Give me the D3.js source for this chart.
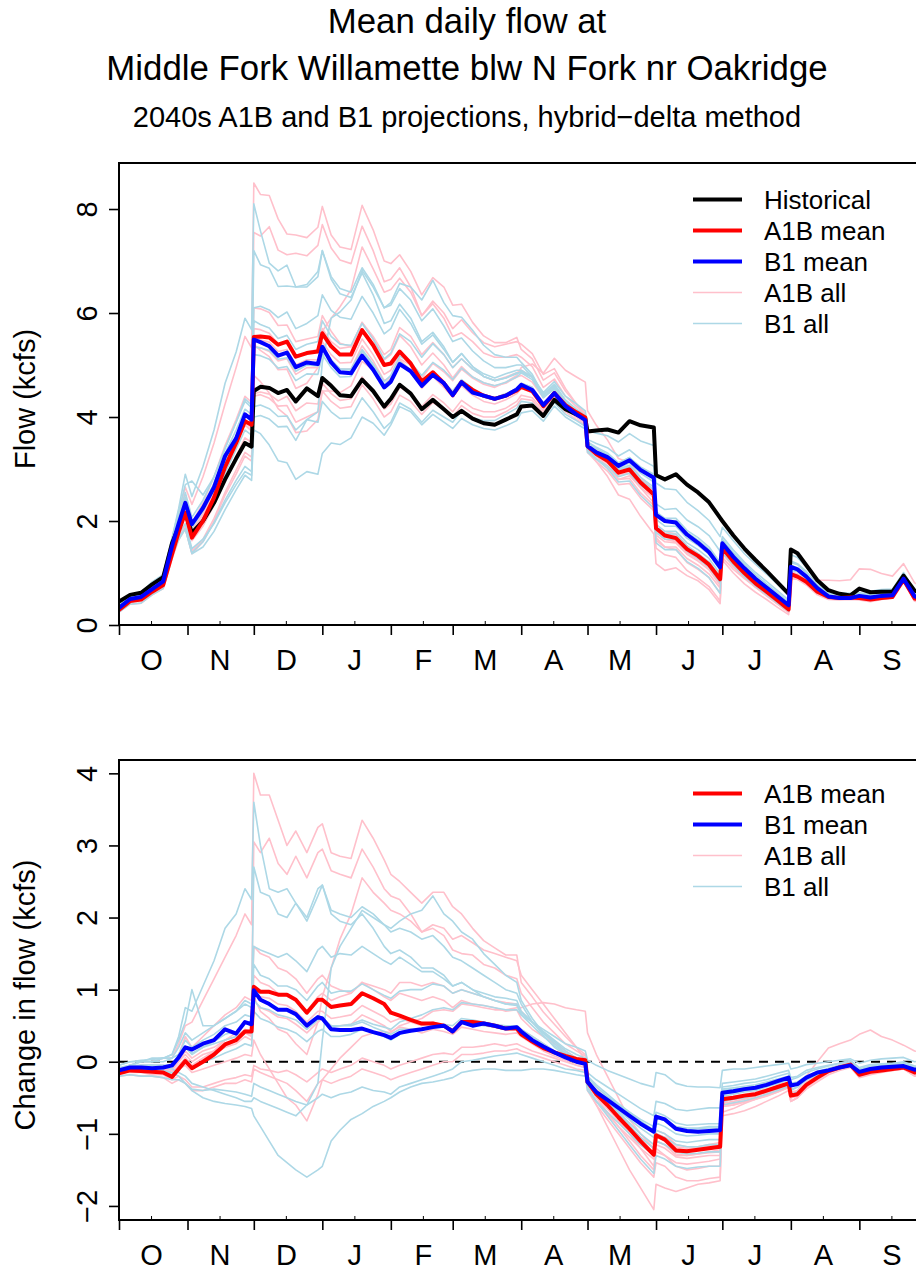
<!DOCTYPE html>
<html>
<head>
<meta charset="utf-8">
<script src="https://cdn.jsdelivr.net/npm/d3@7"></script>
<style>
  body { margin: 0; background: #fff; }
  text { font-family: "Liberation Sans", Arial, Helvetica, sans-serif; fill: #000; }
</style>
</head>
<body>
<svg id="chart" width="916" height="1270"></svg>
<script>
// Day of water year (0 = Oct 1) at which each value is given.
const days = [0,5,10,15,20,24,27,30,33,38,43,48,53,57,60,
  61,64,68,72,76,80,85,90,
  92,96,100,105,110,115,120,
  123,127,132,137,142,147,
  151,155,160,165,170,175,180,
  182,187,192,197,202,207,211,
  212,216,221,226,231,236,242,
  243,247,252,257,262,267,272,
  273,278,283,288,293,298,303,
  304,307,311,316,321,326,331,
  335,340,345,350,355,360,364];

// Historical mean daily flow (kcfs).
const histFlow = [0.45,0.58,0.62,0.78,0.92,1.57,1.89,2.15,1.77,2.0,2.35,2.8,3.2,3.5,3.43,
  4.5,4.58,4.56,4.46,4.52,4.3,4.55,4.4,
  4.75,4.6,4.42,4.4,4.72,4.5,4.2,
  4.35,4.62,4.45,4.15,4.33,4.15,
  4.0,4.12,3.97,3.88,3.85,3.95,4.05,
  4.2,4.22,4.02,4.33,4.15,4.05,3.97,
  3.72,3.74,3.76,3.7,3.92,3.84,3.8,
  2.88,2.8,2.9,2.7,2.55,2.36,2.06,
  2.0,1.72,1.47,1.25,1.04,0.82,0.6,
  1.45,1.38,1.15,0.86,0.67,0.6,0.57,
  0.7,0.63,0.64,0.64,0.95,0.66,0.6];

// Ensemble-mean change from historical (kcfs).
const a1bMeanChange = [-0.16,-0.12,-0.13,-0.14,-0.15,-0.21,-0.1,0.01,-0.09,0.0,0.1,0.24,0.3,0.42,0.42,
  1.04,0.97,0.97,0.93,0.93,0.86,0.68,0.86,
  0.86,0.76,0.78,0.8,0.95,0.88,0.8,
  0.68,0.64,0.58,0.53,0.53,0.5,
  0.42,0.55,0.55,0.53,0.5,0.46,0.46,
  0.38,0.28,0.19,0.13,0.08,0.04,0.02,
  -0.28,-0.45,-0.6,-0.77,-0.93,-1.1,-1.29,
  -1.02,-1.08,-1.23,-1.24,-1.22,-1.2,-1.18,
  -0.52,-0.5,-0.47,-0.45,-0.4,-0.35,-0.3,
  -0.47,-0.45,-0.32,-0.22,-0.13,-0.08,-0.04,
  -0.18,-0.14,-0.12,-0.1,-0.08,-0.15,-0.12];

const b1MeanChange = [-0.12,-0.08,-0.08,-0.09,-0.08,-0.05,0.06,0.2,0.17,0.25,0.3,0.45,0.39,0.55,0.52,
  0.99,0.86,0.8,0.72,0.72,0.66,0.5,0.62,
  0.6,0.45,0.44,0.44,0.46,0.41,0.37,
  0.33,0.4,0.43,0.45,0.48,0.5,
  0.42,0.55,0.5,0.53,0.5,0.46,0.48,
  0.42,0.3,0.21,0.13,0.06,0.0,-0.03,
  -0.28,-0.42,-0.53,-0.64,-0.75,-0.86,-0.97,
  -0.76,-0.8,-0.93,-0.96,-0.97,-0.96,-0.95,
  -0.43,-0.41,-0.38,-0.36,-0.32,-0.27,-0.22,
  -0.33,-0.31,-0.22,-0.15,-0.12,-0.08,-0.05,
  -0.14,-0.1,-0.08,-0.07,-0.06,-0.11,-0.1];

// Individual A1B projections: change from historical (kcfs).
const a1bRunChanges = [
  [-0.1,-0.05,0.0,0.0,0.05,0.05,0.25,0.5,0.55,0.85,1.15,1.45,1.75,2.05,1.9,
   4.0,3.7,3.7,3.35,3.0,3.2,2.9,3.25,
   3.3,2.9,2.85,2.82,3.35,3.1,2.8,
   2.6,2.5,2.35,2.2,2.35,2.35,
   2.15,2.05,1.85,1.68,1.58,1.48,1.48,
   1.1,0.9,0.69,0.52,0.35,0.2,0.02,
   -0.35,-0.6,-0.9,-1.2,-1.5,-1.75,-2.05,
   -1.7,-1.75,-1.8,-1.75,-1.7,-1.68,-1.65,
   -0.7,-0.65,-0.58,-0.52,-0.45,-0.38,-0.32,
   -0.5,-0.42,-0.3,-0.2,-0.12,-0.08,-0.05,
   -0.15,-0.12,-0.1,-0.08,-0.05,-0.15,-0.12],
  [-0.15,-0.1,-0.1,-0.1,-0.08,-0.1,0.1,0.35,0.2,0.35,0.5,0.65,0.75,0.9,0.85,
   3.05,2.9,3.1,2.75,2.6,2.85,2.55,2.9,
   2.95,2.65,2.6,2.55,2.95,2.7,2.4,
   2.3,2.25,2.05,1.8,1.85,1.75,
   1.55,1.5,1.48,1.35,1.3,1.2,1.15,
   0.95,0.75,0.55,0.4,0.25,0.15,0.08,
   -0.25,-0.4,-0.6,-0.8,-1.0,-1.2,-1.45,
   -1.2,-1.3,-1.45,-1.5,-1.48,-1.45,-1.45,
   -0.62,-0.6,-0.55,-0.5,-0.45,-0.4,-0.35,
   -0.55,-0.5,-0.35,-0.25,-0.15,-0.1,-0.05,
   -0.2,-0.15,-0.12,-0.12,-0.1,-0.2,-0.18],
  [-0.1,-0.08,-0.05,-0.05,-0.05,-0.1,0.0,0.1,0.0,0.1,0.15,0.2,0.3,0.4,0.38,
   0.9,0.7,0.6,0.45,0.4,0.25,0.1,0.55,
   0.9,1.3,1.7,2.05,2.55,2.35,2.2,
   2.1,2.05,1.95,1.8,1.9,1.85,
   1.7,1.75,1.65,1.55,1.5,1.45,1.4,
   1.2,1.0,0.8,0.6,0.4,0.2,0.1,
   -0.2,-0.35,-0.55,-0.75,-0.95,-1.1,-1.3,
   -1.1,-1.15,-1.3,-1.3,-1.28,-1.25,-1.22,
   -0.55,-0.52,-0.5,-0.47,-0.42,-0.37,-0.32,
   -0.5,-0.45,-0.3,-0.2,-0.12,-0.05,0.0,
   -0.15,-0.1,-0.1,-0.08,-0.05,-0.12,-0.1],
  [-0.1,-0.1,-0.08,-0.1,-0.1,-0.15,-0.05,0.05,-0.05,0.05,0.15,0.3,0.4,0.55,0.5,
   1.6,1.5,1.45,1.3,1.25,1.15,0.95,1.15,
   1.2,1.05,1.0,0.95,1.1,1.0,0.9,
   0.85,0.95,0.9,0.85,0.9,0.85,
   0.75,0.85,0.8,0.78,0.75,0.7,0.72,
   0.6,0.45,0.35,0.25,0.15,0.05,0.0,
   -0.3,-0.5,-0.7,-0.9,-1.1,-1.3,-1.5,
   -1.25,-1.3,-1.4,-1.42,-1.4,-1.38,-1.35,
   -0.6,-0.58,-0.55,-0.52,-0.48,-0.42,-0.36,
   -0.5,-0.48,-0.35,-0.25,-0.15,-0.1,-0.05,
   -0.2,-0.15,-0.12,-0.1,-0.08,-0.18,-0.15],
  [-0.12,-0.1,-0.1,-0.12,-0.12,-0.2,-0.1,0.0,-0.1,0.0,0.1,0.2,0.25,0.35,0.3,
   0.95,0.9,0.88,0.8,0.78,0.7,0.55,0.7,
   0.7,0.6,0.62,0.65,0.78,0.7,0.62,
   0.55,0.6,0.55,0.5,0.55,0.5,
   0.45,0.55,0.55,0.52,0.5,0.48,0.5,
   0.45,0.35,0.25,0.15,0.05,-0.02,-0.05,
   -0.35,-0.55,-0.72,-0.9,-1.05,-1.2,-1.35,
   -1.15,-1.2,-1.32,-1.34,-1.32,-1.3,-1.3,
   -0.62,-0.6,-0.56,-0.52,-0.47,-0.42,-0.35,
   -0.55,-0.5,-0.35,-0.25,-0.15,-0.1,-0.05,
   -0.2,-0.16,-0.14,-0.12,-0.1,-0.18,-0.15],
  [-0.15,-0.12,-0.12,-0.15,-0.15,-0.2,-0.1,-0.05,-0.15,-0.1,-0.05,0.0,0.05,0.1,0.08,
   0.3,0.1,-0.1,-0.3,-0.5,-0.6,-0.82,-0.45,
   -0.25,-0.1,0.05,0.2,0.35,0.4,0.42,
   0.4,0.5,0.55,0.6,0.7,0.72,
   0.7,0.8,0.78,0.75,0.72,0.72,0.75,
   0.75,0.8,0.82,0.8,0.75,0.72,0.7,
   0.4,0.1,-0.2,-0.5,-0.8,-1.0,-1.2,
   -0.95,-1.0,-1.15,-1.18,-1.18,-1.15,-1.12,
   -0.5,-0.48,-0.45,-0.42,-0.38,-0.33,-0.28,
   -0.42,-0.4,-0.28,-0.18,-0.1,-0.05,-0.02,
   -0.12,-0.1,-0.08,-0.06,-0.04,-0.1,-0.08],
  [-0.15,-0.15,-0.15,-0.18,-0.18,-0.25,-0.2,-0.25,-0.35,-0.35,-0.3,-0.25,-0.22,-0.18,-0.2,
   -0.05,-0.1,-0.12,-0.15,-0.12,-0.18,-0.28,-0.15,
   -0.1,-0.15,-0.1,-0.05,0.05,0.0,-0.05,
   -0.1,-0.05,0.0,0.05,0.1,0.12,
   0.1,0.2,0.2,0.22,0.25,0.22,0.25,
   0.22,0.15,0.1,0.05,0.0,-0.05,-0.08,
   -0.3,-0.45,-0.6,-0.75,-0.9,-1.05,-1.2,
   -1.0,-1.05,-1.2,-1.22,-1.2,-1.18,-1.18,
   -0.55,-0.52,-0.5,-0.46,-0.42,-0.37,-0.3,
   -0.45,-0.4,-0.2,0.0,0.19,0.25,0.3,
   0.38,0.44,0.35,0.3,0.23,0.15,0.12],
  [-0.2,-0.18,-0.2,-0.2,-0.22,-0.3,-0.25,-0.3,-0.4,-0.4,-0.35,-0.3,-0.3,-0.25,-0.28,
   -0.1,-0.15,-0.2,-0.25,-0.3,-0.4,-0.55,-0.3,
   -0.25,-0.3,-0.25,-0.2,-0.1,-0.15,-0.2,
   -0.25,-0.2,-0.15,-0.1,-0.05,0.0,
   0.0,0.1,0.1,0.12,0.15,0.15,0.18,
   0.15,0.1,0.05,0.0,-0.05,-0.1,-0.12,
   -0.4,-0.6,-0.8,-1.0,-1.2,-1.4,-1.6,
   -1.4,-1.45,-1.6,-1.65,-1.65,-1.62,-1.6,
   -0.75,-0.72,-0.68,-0.62,-0.55,-0.48,-0.4,
   -0.55,-0.5,-0.38,-0.28,-0.18,-0.12,-0.08,
   -0.22,-0.18,-0.15,-0.12,-0.1,-0.2,-0.18],
  [-0.1,-0.08,-0.08,-0.1,-0.1,-0.12,0.0,0.15,0.05,0.15,0.2,0.3,0.35,0.45,0.4,
   0.85,0.75,0.7,0.62,0.6,0.52,0.4,0.55,
   0.6,0.5,0.5,0.52,0.65,0.58,0.5,
   0.42,0.48,0.45,0.4,0.45,0.42,
   0.38,0.48,0.45,0.42,0.4,0.38,0.4,
   0.35,0.25,0.15,0.08,0.02,-0.05,-0.08,
   -0.3,-0.48,-0.62,-0.78,-0.92,-1.05,-1.2,
   -1.0,-1.05,-1.18,-1.2,-1.18,-1.16,-1.15,
   -0.52,-0.5,-0.47,-0.44,-0.4,-0.35,-0.3,
   -0.48,-0.45,-0.32,-0.22,-0.12,-0.06,-0.02,
   -0.15,-0.12,-0.1,-0.08,-0.06,-0.14,-0.12],
  [-0.12,-0.1,-0.1,-0.12,-0.12,-0.18,-0.08,0.05,-0.05,0.05,0.12,0.22,0.3,0.4,0.35,
   1.2,1.1,1.05,0.95,0.92,0.85,0.7,0.9,
   0.95,0.85,0.9,0.95,1.1,1.05,1.0,
   0.95,1.1,1.1,1.05,1.1,1.05,
   0.95,1.0,0.95,0.9,0.85,0.82,0.8,
   0.7,0.55,0.4,0.28,0.15,0.05,0.0,
   -0.3,-0.48,-0.65,-0.82,-1.0,-1.15,-1.3,
   -1.1,-1.15,-1.28,-1.3,-1.28,-1.26,-1.25,
   -0.58,-0.55,-0.52,-0.48,-0.43,-0.38,-0.33,
   -0.5,-0.46,-0.33,-0.23,-0.14,-0.08,-0.04,
   -0.18,-0.14,-0.12,-0.1,-0.08,-0.16,-0.14]
];

// Individual B1 projections: change from historical (kcfs).
const b1RunChanges = [
  [-0.1,-0.05,0.0,0.05,0.05,0.1,0.35,0.75,0.7,1.05,1.4,1.85,2.05,2.4,2.25,
   3.6,3.0,2.4,2.35,2.4,2.2,2.0,2.4,
   2.45,2.1,2.05,2.0,2.15,2.05,1.9,
   1.8,1.85,1.8,1.7,1.75,1.6,
   1.45,1.4,1.3,1.2,1.1,1.0,0.95,
   0.8,0.55,0.37,0.2,0.1,0.04,0.0,
   -0.25,-0.4,-0.55,-0.72,-0.88,-1.05,-1.2,
   -1.0,-1.05,-1.15,-1.18,-1.18,-1.15,-1.15,
   -0.48,-0.45,-0.42,-0.4,-0.35,-0.3,-0.25,
   -0.4,-0.35,-0.25,-0.18,-0.12,-0.08,-0.05,
   -0.15,-0.1,-0.08,-0.06,-0.05,-0.12,-0.1],
  [-0.05,0.0,0.0,0.0,0.0,0.05,0.2,0.4,0.3,0.4,0.5,0.6,0.7,0.85,0.8,
   2.7,2.35,2.3,2.05,2.0,2.2,1.95,2.3,
   2.45,2.05,1.95,1.9,2.05,1.85,1.6,
   1.5,1.55,1.45,1.3,1.3,1.2,
   1.05,1.1,1.0,0.9,0.85,0.8,0.8,
   0.65,0.5,0.35,0.22,0.12,0.05,0.02,
   -0.15,-0.25,-0.35,-0.45,-0.55,-0.65,-0.75,
   -0.55,-0.58,-0.66,-0.68,-0.66,-0.64,-0.64,
   -0.3,-0.28,-0.26,-0.24,-0.2,-0.16,-0.12,
   -0.22,-0.2,-0.12,-0.08,-0.05,-0.02,0.0,
   -0.1,-0.06,-0.05,-0.04,-0.02,-0.08,-0.06],
  [-0.08,-0.05,0.0,0.0,0.05,0.1,0.3,0.55,1.0,0.5,0.5,0.6,0.7,0.8,0.75,
   1.6,1.55,1.5,1.45,1.5,1.4,1.25,1.55,
   1.6,1.45,1.5,1.48,1.6,1.5,1.4,
   1.35,1.45,1.35,1.25,1.25,1.15,
   1.05,1.1,1.0,0.95,0.9,0.88,0.85,
   0.7,0.55,0.4,0.28,0.15,0.05,0.0,
   -0.25,-0.4,-0.55,-0.7,-0.85,-1.0,-1.15,
   -0.95,-1.0,-1.1,-1.12,-1.1,-1.08,-1.08,
   -0.45,-0.43,-0.4,-0.38,-0.34,-0.3,-0.25,
   -0.38,-0.35,-0.25,-0.17,-0.11,-0.06,-0.03,
   -0.13,-0.1,-0.08,-0.06,-0.04,-0.1,-0.08],
  [-0.15,-0.1,-0.1,-0.1,-0.12,-0.15,-0.2,-0.3,-0.4,-0.5,-0.55,-0.58,-0.6,-0.62,-0.65,
   -0.75,-0.9,-1.1,-1.3,-1.4,-1.5,-1.6,-1.5,
   -1.45,-1.1,-0.95,-0.8,-0.72,-0.62,-0.55,
   -0.5,-0.42,-0.35,-0.3,-0.28,-0.25,
   -0.22,-0.15,-0.12,-0.1,-0.1,-0.12,-0.12,
   -0.12,-0.1,-0.1,-0.12,-0.15,-0.18,-0.2,
   -0.4,-0.55,-0.7,-0.85,-1.0,-1.15,-1.3,
   -1.1,-1.15,-1.25,-1.28,-1.27,-1.25,-1.25,
   -0.55,-0.52,-0.5,-0.46,-0.42,-0.37,-0.32,
   -0.45,-0.42,-0.3,-0.2,-0.12,-0.07,-0.04,
   -0.18,-0.14,-0.12,-0.1,-0.08,-0.15,-0.13],
  [-0.1,-0.05,-0.05,-0.05,-0.08,-0.1,-0.15,-0.2,-0.3,-0.35,-0.4,-0.45,-0.5,-0.55,-0.55,
   -0.5,-0.55,-0.6,-0.65,-0.7,-0.75,-0.6,-0.3,
   0.3,1.3,1.6,1.85,2.1,2.0,1.9,
   1.85,1.95,2.05,2.1,2.3,2.05,
   1.95,1.8,1.7,1.5,1.35,1.2,1.1,
   0.85,0.6,0.4,0.25,0.12,0.05,0.0,
   -0.22,-0.35,-0.48,-0.6,-0.72,-0.85,-0.98,
   -0.78,-0.82,-0.92,-0.94,-0.93,-0.92,-0.92,
   -0.4,-0.38,-0.36,-0.34,-0.3,-0.26,-0.22,
   -0.32,-0.3,-0.22,-0.15,-0.1,-0.06,-0.03,
   -0.12,-0.08,-0.06,-0.05,-0.03,-0.1,-0.08],
  [-0.1,-0.08,-0.05,-0.05,-0.05,-0.08,0.05,0.2,0.1,0.2,0.28,0.38,0.42,0.55,0.5,
   1.0,0.85,0.82,0.72,0.7,0.65,0.5,0.62,
   0.62,0.48,0.5,0.5,0.55,0.48,0.42,
   0.38,0.45,0.45,0.45,0.5,0.5,
   0.45,0.55,0.52,0.5,0.48,0.45,0.46,
   0.4,0.3,0.2,0.12,0.05,0.0,-0.03,
   -0.28,-0.42,-0.55,-0.68,-0.8,-0.92,-1.05,
   -0.85,-0.9,-1.0,-1.03,-1.02,-1.0,-1.0,
   -0.42,-0.4,-0.38,-0.35,-0.31,-0.27,-0.22,
   -0.33,-0.3,-0.22,-0.15,-0.1,-0.06,-0.03,
   -0.12,-0.08,-0.07,-0.06,-0.04,-0.1,-0.08],
  [-0.2,-0.18,-0.2,-0.2,-0.22,-0.25,-0.25,-0.3,-0.38,-0.4,-0.38,-0.4,-0.42,-0.45,-0.48,
   -0.3,-0.35,-0.4,-0.45,-0.5,-0.55,-0.6,-0.5,
   -0.45,-0.5,-0.45,-0.42,-0.35,-0.4,-0.42,
   -0.45,-0.35,-0.3,-0.25,-0.2,-0.15,
   -0.1,0.0,0.02,0.05,0.08,0.1,0.12,
   0.1,0.05,0.0,-0.05,-0.1,-0.12,-0.15,
   -0.3,-0.4,-0.5,-0.6,-0.7,-0.8,-0.9,
   -0.7,-0.75,-0.85,-0.88,-0.87,-0.86,-0.86,
   -0.35,-0.33,-0.3,-0.28,-0.25,-0.2,-0.16,
   -0.25,-0.22,-0.15,-0.1,-0.06,-0.02,0.02,
   -0.08,-0.04,-0.03,-0.02,0.0,-0.06,-0.05],
  [-0.05,0.0,0.02,0.03,0.05,0.05,0.1,0.2,0.12,0.2,0.25,0.3,0.35,0.42,0.4,
   0.85,0.75,0.72,0.65,0.62,0.58,0.45,0.58,
   0.6,0.5,0.5,0.52,0.58,0.52,0.48,
   0.45,0.55,0.6,0.65,0.72,0.75,
   0.72,0.82,0.8,0.78,0.75,0.72,0.72,
   0.65,0.55,0.45,0.35,0.25,0.2,0.15,
   0.02,-0.05,-0.12,-0.18,-0.24,-0.3,-0.35,
   -0.15,-0.18,-0.3,-0.34,-0.35,-0.35,-0.36,
   -0.12,-0.1,-0.1,-0.08,-0.06,-0.04,-0.02,
   -0.1,-0.08,-0.04,-0.02,0.0,0.02,0.04,
   -0.02,0.02,0.04,0.05,0.06,0.0,0.02],
  [-0.12,-0.1,-0.1,-0.12,-0.12,-0.18,-0.1,0.0,-0.08,0.0,0.05,0.12,0.18,0.25,0.22,
   0.7,0.6,0.55,0.48,0.45,0.4,0.28,0.42,
   0.45,0.35,0.35,0.38,0.45,0.4,0.35,
   0.3,0.38,0.42,0.45,0.5,0.52,
   0.5,0.6,0.58,0.55,0.52,0.5,0.5,
   0.45,0.35,0.25,0.15,0.08,0.02,-0.02,
   -0.35,-0.55,-0.75,-0.95,-1.15,-1.35,-1.55,
   -1.3,-1.35,-1.45,-1.48,-1.46,-1.45,-1.45,
   -0.6,-0.57,-0.54,-0.5,-0.45,-0.4,-0.34,
   -0.48,-0.45,-0.32,-0.22,-0.13,-0.07,-0.04,
   -0.16,-0.12,-0.1,-0.08,-0.06,-0.14,-0.12],
  [-0.1,-0.08,-0.06,-0.05,-0.05,-0.05,0.1,0.3,0.2,0.3,0.38,0.5,0.55,0.65,0.62,
   1.35,1.2,1.15,1.05,1.05,1.0,0.85,1.05,
   1.1,0.95,0.98,0.98,1.08,1.0,0.92,
   0.88,0.98,1.0,1.0,1.08,1.05,
   0.95,1.0,0.95,0.9,0.85,0.8,0.78,
   0.68,0.55,0.42,0.3,0.18,0.1,0.05,
   -0.2,-0.32,-0.45,-0.58,-0.7,-0.82,-0.95,
   -0.75,-0.8,-0.9,-0.92,-0.92,-0.9,-0.9,
   -0.38,-0.36,-0.34,-0.32,-0.28,-0.24,-0.2,
   -0.3,-0.28,-0.2,-0.14,-0.09,-0.05,-0.02,
   -0.1,-0.07,-0.05,-0.04,-0.02,-0.08,-0.06]
];

// Month boundaries (day of water year) and their initials.
const monthStarts = [0,31,61,92,123,151,182,212,243,273,304,335];
const monthLabels = ["O","N","D","J","F","M","A","M","J","J","A","S"];
const flowTicks = [0,2,4,6,8];
const changeTicks = [-2,-1,0,1,2,3,4];

const titleLines = ["Mean daily flow at", "Middle Fork Willamette blw N Fork nr Oakridge"];
const subtitle = "2040s A1B and B1 projections, hybrid\u2212delta method";

// ---------------------------------------------------------------------------
[histFlow, a1bMeanChange, b1MeanChange, ...a1bRunChanges, ...b1RunChanges].forEach((s, k) => {
  if (s.length !== days.length) throw new Error("series " + k + " has " + s.length + " values");
});

const svg = d3.select("#chart");
svg.append("rect").attr("width", 916).attr("height", 1270).attr("fill", "#fff");

const LEFT = 119, RIGHT = 925.65;
const x = d3.scaleLinear().domain([0, 365]).range([LEFT, RIGHT]);

const COL = { hist: "#000000", a1b: "#ff0000", b1: "#0000ff", a1bAll: "#ffc0cb", b1All: "#add8e6" };
const THICK = 4, THIN = 1.6;
const minusFmt = v => (v < 0 ? "\u2212" + Math.abs(v) : String(v));

// Titles
svg.append("text").attr("x", 467).attr("y", 32.5).attr("text-anchor", "middle")
  .style("font-size", "34.8px").text(titleLines[0]);
svg.append("text").attr("x", 467).attr("y", 80).attr("text-anchor", "middle")
  .style("font-size", "34.8px").text(titleLines[1]);
svg.append("text").attr("x", 467).attr("y", 127).attr("text-anchor", "middle")
  .style("font-size", "29px").text(subtitle);

function drawPanel(opt) {
  const y = d3.scaleLinear().domain(opt.domain).range([opt.bottom, opt.top]);
  const g = svg.append("g");

  const clipId = "clip-" + opt.id;
  svg.append("clipPath").attr("id", clipId).append("rect")
    .attr("x", LEFT).attr("y", opt.top).attr("width", RIGHT - LEFT).attr("height", opt.bottom - opt.top);

  const plot = g.append("g").attr("clip-path", `url(#${clipId})`);
  const line = d3.line().x(d => x(d[0])).y(d => y(d[1]));

  if (opt.zeroLine) {
    plot.append("line").attr("x1", LEFT).attr("x2", RIGHT).attr("y1", y(0)).attr("y2", y(0))
      .attr("stroke", "#000").attr("stroke-width", 2).attr("stroke-dasharray", "9,7");
  }

  opt.series.forEach(s => {
    plot.append("path")
      .datum(days.map((d, i) => [d, s.values[i]]))
      .attr("d", line)
      .attr("fill", "none")
      .attr("stroke", s.color)
      .attr("stroke-width", s.width)
      .attr("stroke-linejoin", "round")
      .attr("stroke-linecap", "round");
  });

  // Plot frame
  g.append("rect").attr("x", LEFT).attr("y", opt.top)
    .attr("width", RIGHT - LEFT).attr("height", opt.bottom - opt.top)
    .attr("fill", "none").attr("stroke", "#000").attr("stroke-width", 2);

  // Y axis: ticks outward, labels parallel to the axis
  const yAxis = g.append("g").attr("transform", `translate(${LEFT},0)`)
    .call(d3.axisLeft(y).tickValues(opt.ticks).tickSize(10).tickFormat(minusFmt));
  yAxis.select(".domain").remove();
  yAxis.selectAll("line").attr("stroke-width", 1.6);
  yAxis.selectAll("text")
    .attr("x", null).attr("dy", null)
    .attr("text-anchor", "middle")
    .attr("transform", "translate(-22.5,0) rotate(-90)")
    .style("font-size", "29px")
    .style("font-family", '"Liberation Sans", Arial, Helvetica, sans-serif')
    .attr("fill", "#000");

  // X axis: month boundary ticks
  const xMajor = g.append("g").attr("transform", `translate(0,${opt.bottom})`)
    .call(d3.axisBottom(x).tickValues(monthStarts).tickSize(10).tickFormat(""));
  xMajor.select(".domain").remove();
  xMajor.selectAll("line").attr("stroke-width", 1.6);

  // X axis: month initials at mid-month with short inward ticks
  const xMinor = g.append("g").attr("transform", `translate(0,${opt.bottom})`)
    .call(d3.axisBottom(x).tickValues(monthStarts.map(d => d + 14.5))
      .tickSize(-4).tickPadding(24.4).tickFormat((d, i) => monthLabels[i]));
  xMinor.select(".domain").remove();
  xMinor.selectAll("line").attr("stroke-width", 1);
  xMinor.selectAll("text")
    .style("font-size", "29px")
    .style("font-family", '"Liberation Sans", Arial, Helvetica, sans-serif')
    .attr("fill", "#000");

  // Y title
  svg.append("text")
    .attr("transform", `translate(35,${(opt.top + opt.bottom) / 2 + 5}) rotate(-90)`)
    .attr("text-anchor", "middle").style("font-size", "29px").text(opt.yTitle);

  // Legend
  const lg = svg.append("g");
  opt.legend.forEach((item, i) => {
    const ly = opt.legendTop + i * 31;
    lg.append("line").attr("x1", 693).attr("x2", 742).attr("y1", ly).attr("y2", ly)
      .attr("stroke", item.color).attr("stroke-width", item.width);
    lg.append("text").attr("x", 764).attr("y", ly + 9.3)
      .style("font-size", "26px").text(item.label);
  });
}

const addTo = (base, delta) => base.map((v, i) => v + delta[i]);

// Upper panel: flows
drawPanel({
  id: "flow",
  top: 163, bottom: 625,
  domain: [0, 8.885],
  ticks: flowTicks,
  yTitle: "Flow (kcfs)",
  zeroLine: false,
  series: [
    ...a1bRunChanges.map(c => ({ values: addTo(histFlow, c), color: COL.a1bAll, width: THIN })),
    ...b1RunChanges.map(c => ({ values: addTo(histFlow, c), color: COL.b1All, width: THIN })),
    { values: histFlow, color: COL.hist, width: THICK },
    { values: addTo(histFlow, a1bMeanChange), color: COL.a1b, width: THICK },
    { values: addTo(histFlow, b1MeanChange), color: COL.b1, width: THICK }
  ],
  legendTop: 199.5,
  legend: [
    { label: "Historical", color: COL.hist, width: THICK },
    { label: "A1B mean", color: COL.a1b, width: THICK },
    { label: "B1 mean", color: COL.b1, width: THICK },
    { label: "A1B all", color: COL.a1bAll, width: THIN },
    { label: "B1 all", color: COL.b1All, width: THIN }
  ]
});

// Lower panel: change from historical
drawPanel({
  id: "change",
  top: 760, bottom: 1220,
  domain: [-2.195, 4.185],
  ticks: changeTicks,
  yTitle: "Change in flow (kcfs)",
  zeroLine: true,
  series: [
    ...a1bRunChanges.map(c => ({ values: c, color: COL.a1bAll, width: THIN })),
    ...b1RunChanges.map(c => ({ values: c, color: COL.b1All, width: THIN })),
    { values: a1bMeanChange, color: COL.a1b, width: THICK },
    { values: b1MeanChange, color: COL.b1, width: THICK }
  ],
  legendTop: 793.5,
  legend: [
    { label: "A1B mean", color: COL.a1b, width: THICK },
    { label: "B1 mean", color: COL.b1, width: THICK },
    { label: "A1B all", color: COL.a1bAll, width: THIN },
    { label: "B1 all", color: COL.b1All, width: THIN }
  ]
});
</script>
</body>
</html>
